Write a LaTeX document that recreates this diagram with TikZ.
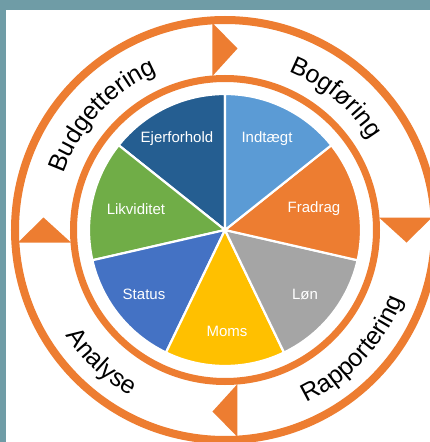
\documentclass[tikz,border=0pt]{standalone}
\usepackage{fontspec}
\setmainfont{Liberation Sans}
\usetikzlibrary{decorations.text}
\definecolor{framecol}{HTML}{6F9CA6}
\definecolor{ringor}{HTML}{ED7D31}
\definecolor{cEjer}{HTML}{255E91}
\definecolor{cInd}{HTML}{5B9BD5}
\definecolor{cFra}{HTML}{ED7D31}
\definecolor{cLon}{HTML}{A5A5A5}
\definecolor{cMoms}{HTML}{FFC000}
\definecolor{cStat}{HTML}{4472C4}
\definecolor{cLik}{HTML}{70AD47}
\begin{document}
\begin{tikzpicture}[x=1pt,y=1pt,
  slice/.style={draw=white, line width=2.2pt, line join=round},
  lbl/.style={text=white, inner sep=0pt, font=\fontsize{15}{16}\selectfont},
  ring/.style={draw=ringor},
  arrowtri/.style={fill=ringor}]
\useasboundingbox (-225pt,-212pt) rectangle (205pt,230pt);
\clip (-225pt,-212pt) rectangle (205pt,230pt);
\fill[white] (-225pt,-212pt) rectangle (205pt,230pt);
% outer and inner rings
\draw[ring, line width=8pt] (0,0) circle[radius=210pt];
\draw[ring, line width=7pt] (0,0) circle[radius=151.5pt];
% direction triangles
\foreach \a in {90,0,-90,180}{
  \begin{scope}[rotate=\a-90]
    \fill[arrowtri] (-12.5pt,154pt) -- (-12.5pt,207pt) -- (12.5pt,181.5pt) -- cycle;
  \end{scope}
}
% pie slices
\filldraw[slice, fill=cEjer] (0,0) -- (90:136pt) arc[start angle=90, end angle=141.43, radius=136pt] -- cycle;
\filldraw[slice, fill=cLik] (0,0) -- (141.43:136pt) arc[start angle=141.43, end angle=192.86, radius=136pt] -- cycle;
\filldraw[slice, fill=cStat] (0,0) -- (192.86:136pt) arc[start angle=192.86, end angle=244.29, radius=136pt] -- cycle;
\filldraw[slice, fill=cMoms] (0,0) -- (244.29:136pt) arc[start angle=244.29, end angle=295.71, radius=136pt] -- cycle;
\filldraw[slice, fill=cLon] (0,0) -- (295.71:136pt) arc[start angle=295.71, end angle=347.14, radius=136pt] -- cycle;
\filldraw[slice, fill=cFra] (0,0) -- (347.14:136pt) arc[start angle=347.14, end angle=398.57, radius=136pt] -- cycle;
\filldraw[slice, fill=cInd] (0,0) -- (38.57:136pt) arc[start angle=38.57, end angle=90, radius=136pt] -- cycle;
% slice labels
\node[lbl] (ejer) at (-48pt,91pt) {Ejerforhold};
\node[lbl] (ind) at (42pt,91pt) {Indtægt};
\node[lbl] (fra) at (89pt,21pt) {Fradrag};
\node[lbl] (lon) at (80pt,-64pt) {Løn};
\node[lbl] (moms) at (2pt,-101pt) {Moms};
\node[lbl] (stat) at (-81pt,-64pt) {Status};
\node[lbl] (lik) at (-89pt,21pt) {Likviditet};
% ring labels
\path[decorate, decoration={text along path, text align=center,
  text={|\fontsize{25}{25}\selectfont|Budgettering}}]
  (172:171pt) arc[start angle=172, end angle=102, radius=171pt];
\path[decorate, decoration={text along path, text align=center,
  text={|\fontsize{25}{25}\selectfont|Bogføring}}]
  (85:171pt) arc[start angle=85, end angle=15, radius=171pt];
\path[decorate, decoration={text along path, text align=center,
  text={|\fontsize{25}{25}\selectfont|Rapportering}}]
  (-80:191pt) arc[start angle=-80, end angle=-6, radius=191pt];
\path[decorate, decoration={text along path, text align=center,
  text={|\fontsize{25}{25}\selectfont|Analyse}}]
  (192:191pt) arc[start angle=192, end angle=262, radius=191pt];
% frame
\fill[framecol] (-225pt,220pt) rectangle (205pt,230pt);
\fill[framecol] (-225pt,-212pt) rectangle (-219pt,230pt);
\end{tikzpicture}
\end{document}
